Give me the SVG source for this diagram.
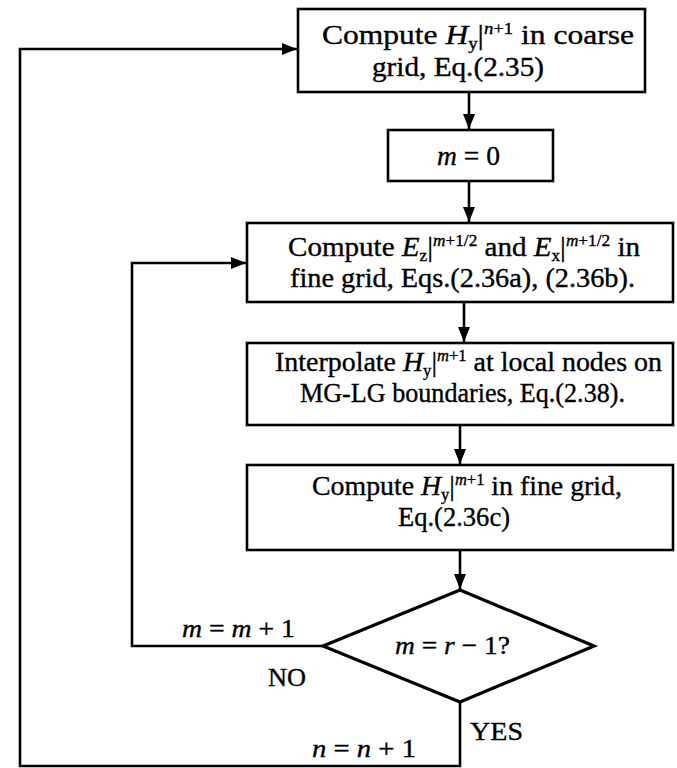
<svg xmlns="http://www.w3.org/2000/svg" width="677" height="768" viewBox="0 0 677 768">
<defs>
<marker id="ah" viewBox="0 0 15 12" refX="15" refY="6" markerWidth="15" markerHeight="12" markerUnits="userSpaceOnUse" orient="auto">
<path d="M0,0 L15,6 L0,12 z" fill="#000"/>
</marker>
<style>
.box{fill:#fff;stroke:#000;stroke-width:2.6}
.dia{fill:#fff;stroke:#000;stroke-width:3.2}
.ln{fill:none;stroke:#000;stroke-width:2.6}
.t{font-family:"Liberation Serif","Times New Roman",serif;font-size:27px;fill:#000;stroke:#000;stroke-width:0.35}
.l{font-family:"Liberation Serif","Times New Roman",serif;font-size:26px;fill:#000;stroke:#000;stroke-width:0.35}
.i{font-style:italic}
.s{font-size:16px}
</style>
</defs>
<rect width="677" height="768" fill="#fff"/>
<g id="connectors">
<path class="ln" d="M469,92 V129" marker-end="url(#ah)"/>
<path class="ln" d="M469,181 V222" marker-end="url(#ah)"/>
<path class="ln" d="M464,302 V342" marker-end="url(#ah)"/>
<path class="ln" d="M460,425 V464" marker-end="url(#ah)"/>
<path class="ln" d="M460,550 V589" marker-end="url(#ah)"/>
<path class="ln" d="M323,646 H132 V263 H246" marker-end="url(#ah)"/>
<path class="ln" d="M460,702 V766 H20 V49 H297" marker-end="url(#ah)"/>
</g>
<g id="n1">
<rect class="box" x="298" y="9" width="347" height="83"/>
<text class="t" x="322" y="44" textLength="312" lengthAdjust="spacingAndGlyphs">Compute <tspan class="i">H</tspan><tspan class="s" dy="5">y</tspan><tspan dy="-5">|</tspan><tspan class="s i" dy="-10">n</tspan><tspan class="s">+1</tspan><tspan dy="10"> in coarse</tspan></text>
<text class="t" x="372" y="76" textLength="172" lengthAdjust="spacingAndGlyphs">grid, Eq.(2.35)</text>
</g>
<g id="n2">
<rect class="box" x="388" y="130" width="165" height="51"/>
<text class="t" x="437" y="165" textLength="63" lengthAdjust="spacingAndGlyphs"><tspan class="i">m</tspan> = 0</text>
</g>
<g id="n3">
<rect class="box" x="247" y="223" width="426" height="79"/>
<text class="t" x="288" y="256" textLength="352" lengthAdjust="spacingAndGlyphs">Compute <tspan class="i">E</tspan><tspan class="s" dy="5">z</tspan><tspan dy="-5">|</tspan><tspan class="s i" dy="-10">m</tspan><tspan class="s">+1/2</tspan><tspan dy="10"> and </tspan><tspan class="i">E</tspan><tspan class="s" dy="5">x</tspan><tspan dy="-5">|</tspan><tspan class="s i" dy="-10">m</tspan><tspan class="s">+1/2</tspan><tspan dy="10"> in</tspan></text>
<text class="t" x="290" y="287" textLength="345" lengthAdjust="spacingAndGlyphs">fine grid, Eqs.(2.36a), (2.36b).</text>
</g>
<g id="n4">
<rect class="box" x="247" y="343" width="426" height="82"/>
<text class="t" x="275" y="371" textLength="387" lengthAdjust="spacingAndGlyphs">Interpolate <tspan class="i">H</tspan><tspan class="s" dy="5">y</tspan><tspan dy="-5">|</tspan><tspan class="s i" dy="-10">m</tspan><tspan class="s">+1</tspan><tspan dy="10"> at local nodes on</tspan></text>
<text class="t" x="300" y="402" textLength="325" lengthAdjust="spacingAndGlyphs">MG-LG boundaries, Eq.(2.38).</text>
</g>
<g id="n5">
<rect class="box" x="247" y="465" width="426" height="85"/>
<text class="t" x="312" y="495" textLength="310" lengthAdjust="spacingAndGlyphs">Compute <tspan class="i">H</tspan><tspan class="s" dy="5">y</tspan><tspan dy="-5">|</tspan><tspan class="s i" dy="-10">m</tspan><tspan class="s">+1</tspan><tspan dy="10"> in fine grid,</tspan></text>
<text class="t" x="398" y="526" textLength="112" lengthAdjust="spacingAndGlyphs">Eq.(2.36c)</text>
</g>
<g id="n6">
<path class="dia" d="M460,590 L594,646 L460,702 L323,646 z"/>
<text class="l" x="395" y="654" textLength="115" lengthAdjust="spacingAndGlyphs"><tspan class="i">m</tspan> = <tspan class="i">r</tspan> − 1?</text>
</g>
<g id="labels">
<text class="l" x="182" y="637" textLength="113" lengthAdjust="spacingAndGlyphs"><tspan class="i">m</tspan> = <tspan class="i">m</tspan> + 1</text>
<text class="l" x="268" y="686" textLength="38" lengthAdjust="spacingAndGlyphs">NO</text>
<text class="l" x="470" y="740" textLength="53" lengthAdjust="spacingAndGlyphs">YES</text>
<text class="l" x="312" y="757" textLength="104" lengthAdjust="spacingAndGlyphs"><tspan class="i">n</tspan> = <tspan class="i">n</tspan> + 1</text>
</g>
</svg>
